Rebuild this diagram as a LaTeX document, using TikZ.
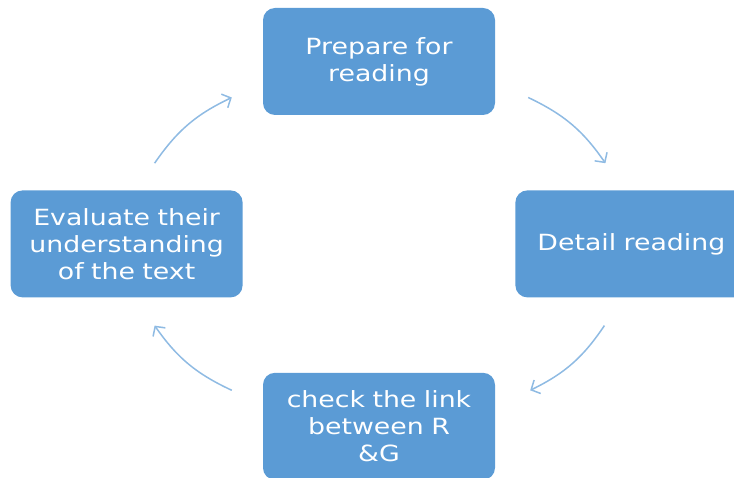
\documentclass[tikz,border=0pt]{standalone}
\usepackage{fontspec}
\setmainfont[FakeStretch=1.2]{DejaVu Sans}
\usepackage{tikz}
\usetikzlibrary{arrows.meta,positioning}
\definecolor{boxblue}{HTML}{5B9BD5}
\definecolor{arcblue}{HTML}{8FBBE3}
\tikzset{
  stage/.style={fill=boxblue, rounded corners=12pt, text=white, align=center,
    minimum width=232pt, minimum height=107pt, text width=225pt,
    font=\fontsize{22.3}{27}\selectfont},
  cycarrow/.style={-{Straight Barb[length=7pt,width=15pt]}, draw=arcblue, line width=1.5pt, bend left=15}
}

\begin{document}
\begin{tikzpicture}[x=1pt, y=1pt]
    \useasboundingbox (0,0) rectangle (734,477);
    \node[stage] (prep) at (379,415.5) {Prepare for\\reading};
    \node[stage, below right=75pt and 20pt of prep] (detail) {Detail reading};
    \node[stage, below left=75pt and 20pt of prep] (eval) {Evaluate their\\understanding\\of the text};
    \node[stage, below right=75pt and 20pt of eval] (link) {check the link\\between R\\\&G};

    \draw[cycarrow] ([shift={(28pt,27pt)}]eval.north) to ([shift={(-31pt,-36pt)}]prep.west);
    \draw[cycarrow] ([shift={(33pt,-36pt)}]prep.east) to ([shift={(-26pt,27pt)}]detail.north);
    \draw[cycarrow] ([shift={(-27pt,-28pt)}]detail.south) to ([shift={(35pt,36pt)}]link.east);
    \draw[cycarrow] ([shift={(-31pt,36pt)}]link.west) to ([shift={(28pt,-28pt)}]eval.south);
  \end{tikzpicture}
\end{document}
